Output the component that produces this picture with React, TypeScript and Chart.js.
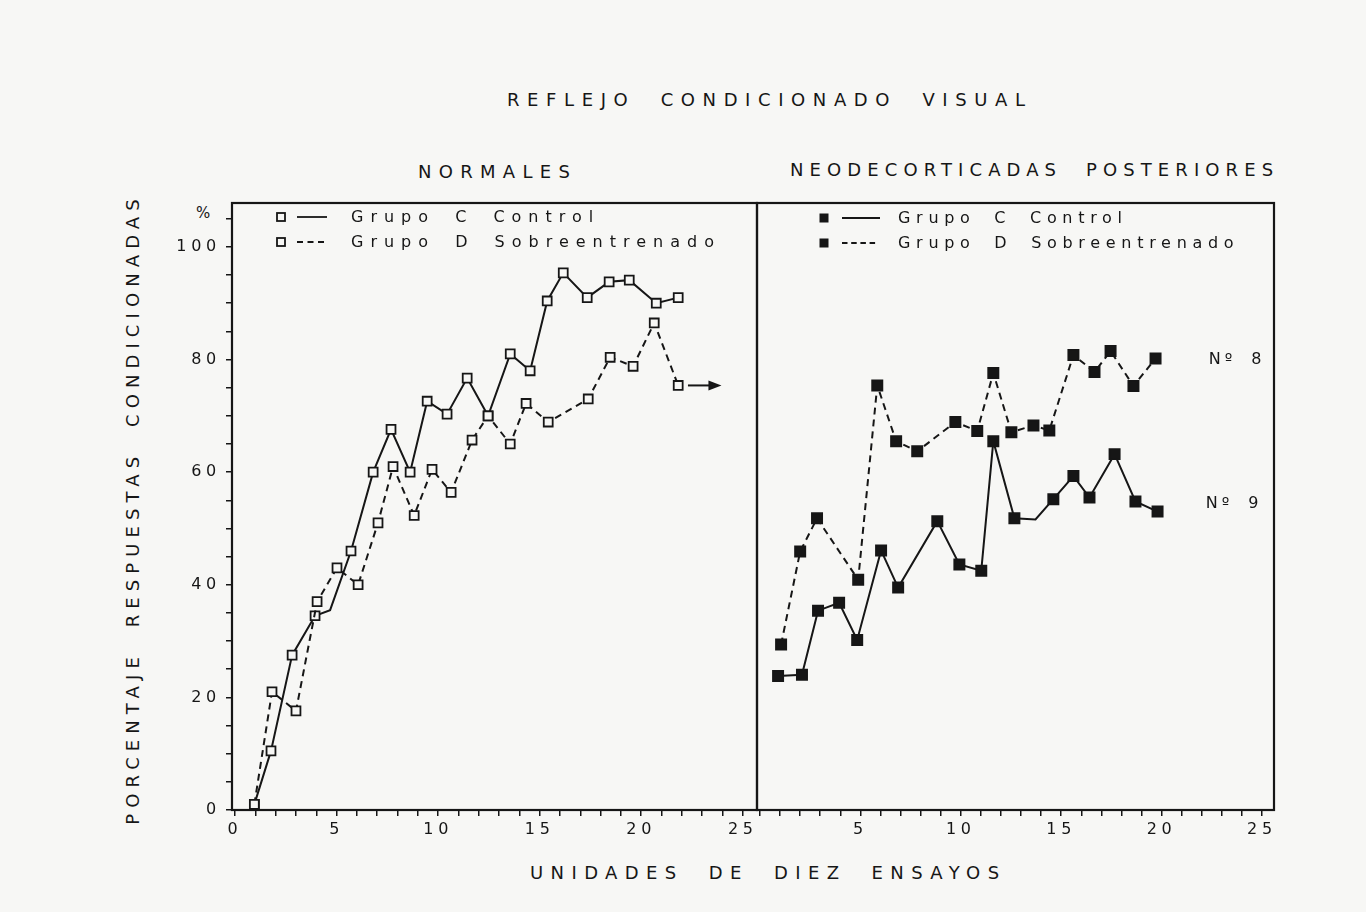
import React, { useEffect, useRef } from "react";
import { Chart, registerables } from "chart.js";

Chart.register(...registerables);

const FONT_FAMILY = "'DejaVu Sans', 'Liberation Sans', sans-serif";
const INK = "#161616";
const PAPER = "#f7f7f5";

// ---------------- texts ----------------
const titleText = "REFLEJO CONDICIONADO VISUAL";
const leftPanelTitle = "NORMALES";
const rightPanelTitle = "NEODECORTICADAS POSTERIORES";
const yAxisTitle = "PORCENTAJE RESPUESTAS CONDICIONADAS";
const yUnitLabel = "%";
const xAxisTitle = "UNIDADES DE DIEZ ENSAYOS";
const legendLabels = ["Grupo C Control", "Grupo D Sobreentrenado"];

// ---------------- ticks ----------------
const leftXTickLabels = [0, 5, 10, 15, 20, 25];
const rightXTickLabels = [5, 10, 15, 20, 25];
const yTickLabels = [0, 20, 40, 60, 80, 100];

// ---------------- NORMALES ----------------
const normalesControlX = [0.95, 1.77, 2.81, 3.94, 4.68, 5.71, 6.8, 7.68, 8.62, 9.46, 10.44, 11.43, 12.46, 13.55, 14.53, 15.37, 16.16, 17.34, 18.42, 19.41, 20.74, 21.82];
const normalesControlY = [1, 10.5, 27.5, 34.5, 35.5, 46, 60, 67.6, 60, 72.6, 70.3, 76.7, 70, 81, 78, 90.4, 95.4, 91, 93.8, 94.1, 90, 91];
const normalesControlUnmarked = [4];

const normalesSobreX = [0.95, 1.82, 3.0, 4.04, 5.02, 6.06, 7.04, 7.78, 8.82, 9.7, 10.64, 11.67, 12.46, 13.55, 14.33, 15.42, 17.39, 18.47, 19.6, 20.64, 21.82];
const normalesSobreY = [1, 21, 17.6, 37, 43, 40, 51, 61, 52.3, 60.5, 56.4, 65.7, 70, 65, 72.2, 68.9, 73, 80.4, 78.8, 86.5, 75.4];

const arrowX = [22.3, 23.95];
const arrowY = 75.4;

// ---------------- NEODECORTICADAS POSTERIORES ----------------
const neoControlX = [0.9, 2.09, 2.89, 3.94, 4.84, 6.03, 6.88, 8.83, 9.93, 11.02, 11.62, 12.67, 13.72, 14.61, 15.61, 16.41, 17.66, 18.7, 19.8];
const neoControlY = [23.8, 24, 35.4, 36.8, 30.2, 46.1, 39.5, 51.3, 43.6, 42.5, 65.5, 51.8, 51.6, 55.2, 59.3, 55.5, 63.2, 54.8, 53];
const neoControlUnmarked = [12];

const neoSobreX = [1.05, 2.0, 2.84, 4.89, 5.84, 6.78, 7.83, 9.73, 10.82, 11.62, 12.52, 13.62, 14.41, 15.61, 16.66, 17.46, 18.6, 19.7];
const neoSobreY = [29.4, 45.9, 51.8, 40.9, 75.4, 65.5, 63.7, 68.9, 67.3, 77.6, 67.1, 68.3, 67.4, 80.8, 77.8, 81.5, 75.3, 80.2];

const caseLabels = ["Nº 8", "Nº 9"];
const caseLabelX = [22.35, 22.2];
const caseLabelY = [80, 54.3];

// ---------------- helpers ----------------
const toPoints = (xs: number[], ys: number[]) => xs.map((x, i) => ({ x, y: ys[i] }));

type PanelSpec = {
  left: number;
  width: number;
  padLeft: number;
  padRight: number;
  showY: boolean;
  xMin: number;
  xMax: number;
  xLabels: number[];
  filled: boolean;
  datasets: any[];
  legend: { marker: number; lineFrom: number; lineTo: number; text: number; rows: number[]; spacing: number; markerSize: number; dash: number[] };
  annotate?: (chart: any) => void;
};

function buildChart(canvas: HTMLCanvasElement, spec: PanelSpec) {
  const decoPlugin = {
    id: "deco",
    beforeDraw(chart: any) {
      (chart.ctx as any).letterSpacing = "4.7px";
    },
    afterDatasetsDraw(chart: any) {
      if (spec.annotate) spec.annotate(chart);
    },
    afterDraw(chart: any) {
      const ctx = chart.ctx;
      const a = chart.chartArea;
      ctx.save();
      // frame
      ctx.strokeStyle = INK;
      ctx.lineWidth = 2.2;
      ctx.strokeRect(a.left, a.top, a.right - a.left, a.bottom - a.top);
      // legend
      const lg = spec.legend;
      legendLabels.forEach((label, i) => {
        const y = a.top + lg.rows[i];
        const s = lg.markerSize;
        const mx = a.left + lg.marker;
        ctx.setLineDash([]);
        ctx.lineWidth = 1.8;
        if (spec.filled) {
          ctx.fillStyle = INK;
          ctx.fillRect(mx - s / 2, y - s / 2, s, s);
        } else {
          ctx.fillStyle = PAPER;
          ctx.fillRect(mx - s / 2, y - s / 2, s, s);
          ctx.strokeRect(mx - s / 2, y - s / 2, s, s);
        }
        ctx.beginPath();
        ctx.setLineDash(i === 0 ? [] : lg.dash);
        ctx.moveTo(a.left + lg.lineFrom, y);
        ctx.lineTo(a.left + lg.lineTo - (i === 0 ? 0 : 3), y);
        ctx.stroke();
        ctx.setLineDash([]);
        ctx.fillStyle = INK;
        ctx.font = `16px ${FONT_FAMILY}`;
        (ctx as any).letterSpacing = `${lg.spacing}px`;
        (ctx as any).wordSpacing = "8px";
        ctx.textAlign = "left";
        ctx.textBaseline = "middle";
        ctx.fillText(label, a.left + lg.text, y + 1);
      });
      ctx.restore();
    },
  };

  return new Chart(canvas, {
    type: "line",
    data: { datasets: spec.datasets },
    options: {
      responsive: false,
      animation: false,
      devicePixelRatio: 1,
      layout: { padding: { top: 203, left: spec.padLeft, right: spec.padRight, bottom: 0 } },
      plugins: { legend: { display: false }, tooltip: { enabled: false } },
      scales: {
        x: {
          type: "linear",
          min: spec.xMin,
          max: spec.xMax,
          afterFit: (s: any) => {
            s.height = 102;
          },
          border: { display: false },
          grid: { drawOnChartArea: false, drawTicks: true, tickLength: 6, color: INK, lineWidth: 1.5 },
          ticks: {
            stepSize: 1,
            autoSkip: false,
            includeBounds: false,
            maxRotation: 0,
            minRotation: 0,
            padding: 4,
            color: INK,
            font: { family: FONT_FAMILY, size: 16 },
            callback: (v: any) => (spec.xLabels.includes(Number(v)) ? String(v) : ""),
          },
        },
        y: {
          display: spec.showY,
          min: 0,
          max: 107.8,
          afterFit: (s: any) => {
            s.width = spec.showY ? 232 : 0;
          },
          border: { display: false },
          grid: { drawOnChartArea: false, drawTicks: true, tickLength: 6, color: INK, lineWidth: 1.5 },
          ticks: {
            stepSize: 5,
            autoSkip: false,
            includeBounds: false,
            padding: 5,
            color: INK,
            font: { family: FONT_FAMILY, size: 16 },
            callback: (v: any) => (yTickLabels.includes(Number(v)) ? String(v) : ""),
          },
        },
      },
    } as any,
    plugins: [decoPlugin],
  });
}

function Panel({ spec }: { spec: PanelSpec }) {
  const ref = useRef<HTMLCanvasElement | null>(null);
  useEffect(() => {
    if (!ref.current) return;
    const chart = buildChart(ref.current, spec);
    return () => chart.destroy();
  }, [spec]);
  return (
    <canvas
      ref={ref}
      width={spec.width}
      height={912}
      style={{ position: "absolute", left: spec.left, top: 0, width: spec.width, height: 912 }}
    />
  );
}

const lineStyle = (dashed: boolean, filled: boolean, unmarked: number[] = [], n = 0) => ({
  borderColor: INK,
  borderWidth: 2,
  borderDash: dashed ? [7, 5] : [],
  tension: 0,
  pointStyle: "rect",
  pointRadius: Array.from({ length: n }, (_, i) => (unmarked.includes(i) ? 0 : filled ? 7.2 : 6.3)),
  pointBorderWidth: 1.8,
  pointBorderColor: INK,
  pointBackgroundColor: filled ? INK : PAPER,
});

const leftSpec: PanelSpec = {
  left: 0,
  width: 770,
  padLeft: 0,
  padRight: 13,
  showY: true,
  xMin: -0.15,
  xMax: 25.7,
  xLabels: leftXTickLabels,
  filled: false,
  datasets: [
    {
      label: legendLabels[1],
      data: toPoints(normalesSobreX, normalesSobreY),
      ...lineStyle(true, false, [], normalesSobreX.length),
    },
    {
      label: legendLabels[0],
      data: toPoints(normalesControlX, normalesControlY),
      ...lineStyle(false, false, normalesControlUnmarked, normalesControlX.length),
    },
  ],
  legend: { marker: 49, lineFrom: 65, lineTo: 95, text: 119, rows: [14, 39], spacing: 7, markerSize: 8, dash: [6, 4.5] },
  annotate: (chart: any) => {
    const ctx = chart.ctx;
    const xs = chart.scales.x;
    const ys = chart.scales.y;
    const x0 = xs.getPixelForValue(arrowX[0]);
    const x1 = xs.getPixelForValue(arrowX[1]);
    const y = ys.getPixelForValue(arrowY);
    ctx.save();
    ctx.strokeStyle = INK;
    ctx.fillStyle = INK;
    ctx.lineWidth = 2;
    ctx.setLineDash([]);
    ctx.beginPath();
    ctx.moveTo(x0, y);
    ctx.lineTo(x1 - 8, y);
    ctx.stroke();
    ctx.beginPath();
    ctx.moveTo(x1, y);
    ctx.lineTo(x1 - 13, y - 5);
    ctx.lineTo(x1 - 13, y + 5);
    ctx.closePath();
    ctx.fill();
    ctx.restore();
  },
};

const rightSpec: PanelSpec = {
  left: 740,
  width: 626,
  padLeft: 17,
  padRight: 92,
  showY: false,
  xMin: -0.15,
  xMax: 25.6,
  xLabels: rightXTickLabels,
  filled: true,
  datasets: [
    {
      label: legendLabels[1],
      data: toPoints(neoSobreX, neoSobreY),
      ...lineStyle(true, true, [], neoSobreX.length),
    },
    {
      label: legendLabels[0],
      data: toPoints(neoControlX, neoControlY),
      ...lineStyle(false, true, neoControlUnmarked, neoControlX.length),
    },
  ],
  legend: { marker: 67, lineFrom: 85, lineTo: 123, text: 141, rows: [15, 40], spacing: 5.7, markerSize: 9, dash: [5.5, 3.7] },
  annotate: (chart: any) => {
    const ctx = chart.ctx;
    const xs = chart.scales.x;
    const ys = chart.scales.y;
    ctx.save();
    ctx.fillStyle = INK;
    ctx.font = `16px ${FONT_FAMILY}`;
    (ctx as any).letterSpacing = "4px";
    (ctx as any).wordSpacing = "6px";
    ctx.textAlign = "left";
    ctx.textBaseline = "middle";
    caseLabels.forEach((t, i) => {
      ctx.fillText(t, xs.getPixelForValue(caseLabelX[i]), ys.getPixelForValue(caseLabelY[i]));
    });
    ctx.restore();
  },
};

const txt = (left: number, top: number, size: number, spacing: number, word: number): React.CSSProperties => ({
  position: "absolute",
  left,
  top,
  fontFamily: FONT_FAMILY,
  fontSize: size,
  letterSpacing: spacing,
  wordSpacing: word,
  lineHeight: 1,
  whiteSpace: "nowrap",
  color: INK,
});

export default function App() {
  return (
    <div
      style={{
        position: "absolute",
        left: 0,
        top: 0,
        width: 1366,
        height: 912,
        background: PAPER,
        overflow: "hidden",
      }}
    >
      <div style={txt(507, 91, 18, 7.6, 12)}>{titleText}</div>
      <div style={txt(418, 163, 18, 7.3, 17)}>{leftPanelTitle}</div>
      <div style={txt(790, 161, 18, 6.1, 12)}>{rightPanelTitle}</div>
      <div style={txt(530, 864, 18, 7.4, 12)}>{xAxisTitle}</div>
      <div style={txt(196, 206, 15, 0, 0)}>{yUnitLabel}</div>
      <div
        style={{
          ...txt(133, 509, 18, 6.1, 12),
          transform: "translate(-50%, -50%) rotate(-90deg)",
        }}
      >
        {yAxisTitle}
      </div>
      <Panel spec={leftSpec} />
      <Panel spec={rightSpec} />
    </div>
  );
}
